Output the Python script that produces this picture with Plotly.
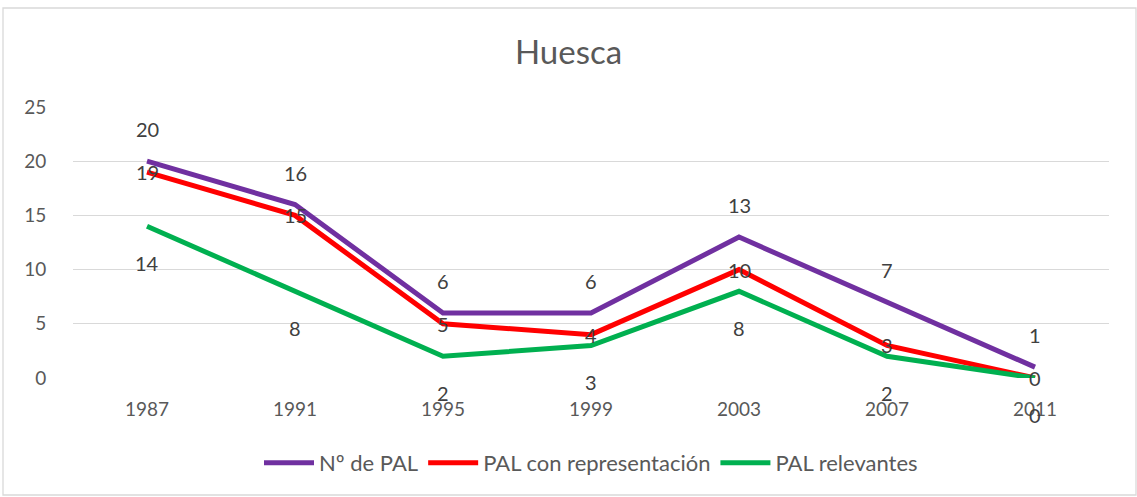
import plotly.graph_objects as go

years = ["1987", "1991", "1995", "1999", "2003", "2007", "2011"]
num_pal = [20, 16, 6, 6, 13, 7, 1]
pal_repr = [19, 15, 5, 4, 10, 3, 0]
pal_relev = [14, 8, 2, 3, 8, 2, 0]

series = [
    ("Nº de PAL", num_pal, "#7030A0", 32),
    ("PAL con representación", pal_repr, "#FF0000", 0),
    ("PAL relevantes", pal_relev, "#00B050", -37),
]

FONT = "Lato, Carlito, Calibri, sans-serif"
TXT = "#595959"

W, H = 1137, 497
ml, mr, mt, mb = 73, 28, 107, 119
pw, ph = W - ml - mr, H - mt - mb

def px_x(p):
    return (p - ml) / pw

def px_y(p):
    return (H - mb - p) / ph

fig = go.Figure()
for name, vals, color, shift in series:
    fig.add_trace(go.Scatter(
        x=years, y=vals, mode="lines", name=name,
        line=dict(color=color, width=5),
        hoverinfo="skip",
    ))

for name, vals, color, shift in series:
    for i, v in enumerate(vals):
        fig.add_annotation(
            x=i, y=v, xref="x", yref="y", text=str(v), showarrow=False,
            yshift=shift, font=dict(family=FONT, size=20, color="#404040"),
        )

fig.update_layout(
    width=W, height=H,
    margin=dict(l=ml, r=mr, t=mt, b=mb),
    paper_bgcolor="white", plot_bgcolor="white",
    font=dict(family=FONT, color=TXT),
    title=dict(text="Huesca", x=0.5, xanchor="center", y=1 - 52 / H, yanchor="middle",
               font=dict(size=33, color=TXT, family=FONT)),
    xaxis=dict(type="category", range=[-0.5, 6.5], showgrid=False, zeroline=False,
               showline=False, ticks="outside", ticklen=14, tickcolor="rgba(0,0,0,0)",
               tickfont=dict(size=19, color=TXT)),
    yaxis=dict(range=[0, 25], dtick=5, showgrid=True, gridcolor="#D9D9D9", gridwidth=1.3,
               zeroline=False, showline=False, ticks="outside", ticklen=22,
               tickcolor="rgba(0,0,0,0)", tickfont=dict(size=19, color=TXT)),
    legend=dict(orientation="h", x=0.5, xanchor="center", y=px_y(463), yanchor="middle",
                font=dict(size=22, color=TXT), traceorder="normal", itemwidth=50),
    shapes=[dict(type="rect", xref="paper", yref="paper",
                 x0=px_x(3), x1=px_x(1136), y0=px_y(495), y1=px_y(8),
                 line=dict(color="#D9D9D9", width=1.3), layer="below")],
)

fig.write_html("out.html", config={"displayModeBar": False},
               post_script="document.body.style.margin='0';")
